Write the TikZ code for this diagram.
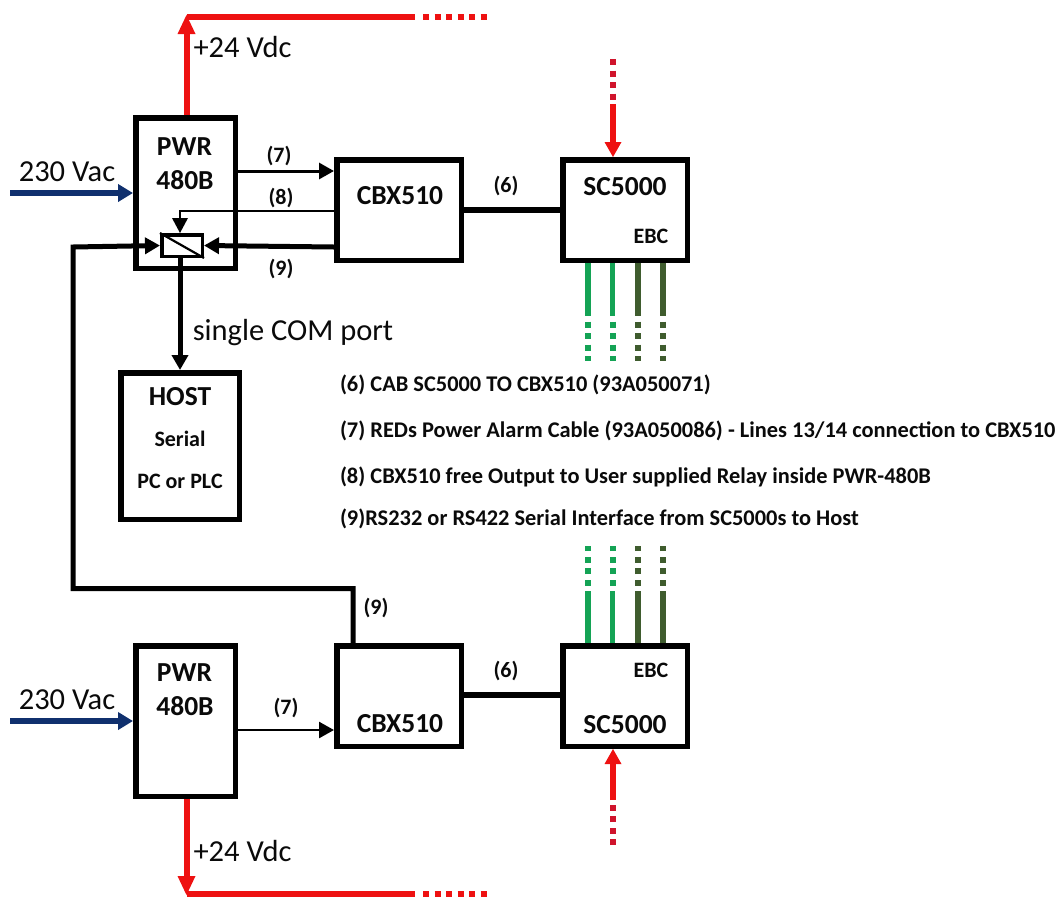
\documentclass[tikz,border=0pt]{standalone}
\usepackage{fontspec}
\setmainfont{Carlito}
\usetikzlibrary{arrows.meta,calc}
\definecolor{redline}{HTML}{EE1111}
\definecolor{dotred}{HTML}{D0142C}
\definecolor{navyline}{HTML}{10306E}
\definecolor{greenline}{HTML}{14A355}
\definecolor{oliveline}{HTML}{3F5C2E}
\definecolor{inkline}{HTML}{0A0A0A}
\tikzset{
  x=1pt,y=-1pt,
  every node/.style={inner sep=0pt,outer sep=0pt,text=inkline},
  unit/.style={draw=black,line width=5.5pt,fill=white,rectangle,outer sep=2.75pt},
  relay/.style={draw=black,line width=3.5pt,fill=white,rectangle,minimum width=40.5pt,minimum height=21.5pt,outer sep=1.75pt},
  big/.style={font=\fontsize{30.5}{30.5}\selectfont},
  boxlabel/.style={font=\fontsize{27.5}{27.5}\selectfont\bfseries},
  small/.style={font=\fontsize{22}{22}\selectfont\bfseries},
  legend/.style={font=\fontsize{22.4}{22.4}\selectfont\bfseries,anchor=west},
  wire/.style={draw=black,line width=5pt},
  thinwire/.style={draw=black,line width=2.6pt},
  tipped/.style={-{Triangle[length=15pt,width=16pt]}},
  redwire/.style={draw=redline,line width=6pt},
  bluewire/.style={draw=navyline,line width=6pt,-{Triangle[length=15pt,width=17pt]}},
  dotted run/.style={line width=6pt,dash pattern=on 6pt off 5.5pt},
}
\begin{document}
\begin{tikzpicture}
\useasboundingbox (0,0) rectangle (1057,898);
\fill[white] (0,0) rectangle (1057,898);

% units
\node[unit,minimum width=99.5pt,minimum height=150.5pt,anchor=north west] (pwrA) at (133,115) {};
\node[unit,minimum width=124.5pt,minimum height=100.5pt,anchor=north west] (cbxA) at (334,157) {};
\node[unit,minimum width=124.5pt,minimum height=100.5pt,anchor=north west] (scA) at (560,157) {};
\node[unit,minimum width=118.5pt,minimum height=146.5pt,anchor=north west] (host) at (118,370) {};
\node[unit,minimum width=99.5pt,minimum height=150.5pt,anchor=north west] (pwrB) at (133,643) {};
\node[unit,minimum width=124.5pt,minimum height=100.5pt,anchor=north west] (cbxB) at (334,643) {};
\node[unit,minimum width=124.5pt,minimum height=100.5pt,anchor=north west] (scB) at (560,643) {};
\node[relay] (rel) at (182,245.5) {};
\draw[line width=2.2pt] (rel.north west) -- (rel.south east);

% free ends and bends
\coordinate (upCorner) at (186.5,16.5);
\coordinate (upEnd) at (415,16.5);
\coordinate (upDots) at (487,16.5);
\coordinate (downCorner) at (186.5,894);
\coordinate (downEnd) at (415,894);
\coordinate (downDots) at (487,894);
\coordinate (acA) at (10,193);
\coordinate (acB) at (10,721);
\coordinate (feedA) at (613,104);
\coordinate (feedAd) at (613,59);
\coordinate (feedB) at (613,800);
\coordinate (feedBd) at (613,845);

% red supply, top
\draw[redwire] (186.5,115) -- (186.5,30);
\fill[redline] (186.5,15) -- (177.5,34) -- (195.5,34) -- cycle;
\draw[redwire] (upCorner) -- (upEnd);
\draw[draw=redline,dotted run] (423,16.5) -- (upDots);
% red supply, bottom
\draw[redwire] (186.5,799) -- (186.5,880);
\fill[redline] (186.5,895) -- (177.5,876) -- (195.5,876) -- cycle;
\draw[redwire] (downCorner) -- (downEnd);
\draw[draw=redline,dotted run] (423,894) -- (downDots);

% mains
\draw[bluewire] (acA) -- (acA -| pwrA.west);
\draw[bluewire] (acB) -- (acB -| pwrB.west);

% signals
\draw[draw=black,line width=3pt,tipped] (238,171) -- (0,171 -| cbxA.west);
\draw[thinwire] (cbxA.west |- 0,211) -- (180,211) -- (180,226);
\fill (180,233) -- (172,218) -- (188,218) -- cycle;
\draw[wire,tipped] (cbxA.west |- 0,247) -- (rel.east);
\draw[wire,tipped] (cbxB.north -| 353,0) -- (353,588.5) -- (73,588.5) -- (73,247) -- (rel.west);
\draw[wire,tipped] (180,258) -- (host.north -| 180,0);
\draw[thinwire,tipped] (238,730) -- (0,730 -| cbxB.west);

% cables (6)
\draw[line width=6pt] (cbxA.east |- 0,210) -- (scA.west |- 0,210);
\draw[line width=6pt] (cbxB.east |- 0,695) -- (scB.west |- 0,695);

% red feeds
\draw[draw=redline,line width=5.5pt] (feedA) -- (613,146);
\fill[redline] (613,157) -- (604.5,142) -- (621.5,142) -- cycle;
\draw[draw=dotred,dotted run] (feedAd) -- (feedA);
\draw[draw=redline,line width=5.5pt] (feedB) -- (613,760);
\fill[redline] (613,749) -- (604.5,764) -- (621.5,764) -- cycle;
\draw[draw=dotred,dotted run] (feedBd) -- (feedB);

% EBC lines
\foreach \px/\col in {588/greenline,612.5/greenline,638/oliveline,663/oliveline}{
  \draw[draw=\col,line width=5.5pt] (\px,263) -- (\px,316);
  \draw[draw=\col,dotted run] (\px,321.5) -- (\px,361);
  \draw[draw=\col,line width=5.5pt] (\px,643) -- (\px,591);
  \draw[draw=\col,dotted run] (\px,585.5) -- (\px,546);
}

% texts
\node[big] (lacA) at (67,172) {230 Vac};
\node[big] (lacB) at (67,700) {230 Vac};
\node[big] (ldcA) at (242.5,47) {+24 Vdc};
\node[big] (ldcB) at (242.5,851) {+24 Vdc};
\node[big] (lcom) at (293,333) {single COM port};

\node[boxlabel] (tpwrA1) at (184.5,147) {PWR};
\node[boxlabel] (tpwrA2) at (185,180) {480B};
\node[boxlabel] (tpwrB1) at (184.5,673) {PWR};
\node[boxlabel] (tpwrB2) at (185,706) {480B};
\node[boxlabel] (tcbxA) at (400,196) {CBX510};
\node[boxlabel] (tcbxB) at (400,724) {CBX510};
\node[boxlabel] (tscA) at (625,187) {SC5000};
\node[boxlabel] (tscB) at (625,725) {SC5000};
\node[small] (tebcA) at (651,236) {EBC};
\node[small] (tebcB) at (651,670) {EBC};
\node[boxlabel] (thost) at (180,397) {HOST};
\node[small] (thost2) at (180,439) {Serial};
\node[small] (thost3) at (180,481) {PC or PLC};

\node[small] (n7a) at (279,156) {(7)};
\node[small] (n8a) at (281,198) {(8)};
\node[small] (n9a) at (281,269) {(9)};
\node[small] (n6a) at (506,186) {(6)};
\node[small] (n9b) at (376,608) {(9)};
\node[small] (n7b) at (286,708) {(7)};
\node[small] (n6b) at (506,671) {(6)};

\node[legend] (leg6) at (340,385) {(6) CAB SC5000 TO CBX510 (93A050071)};
\node[legend] (leg7) at (340,431) {(7) REDs Power Alarm Cable (93A050086) - Lines 13/14 connection to CBX510};
\node[legend] (leg8) at (340,477) {(8) CBX510 free Output to User supplied Relay inside PWR-480B};
\node[legend] (leg9) at (340,519) {(9)RS232 or RS422 Serial Interface from SC5000s to Host};
\end{tikzpicture}
\end{document}
